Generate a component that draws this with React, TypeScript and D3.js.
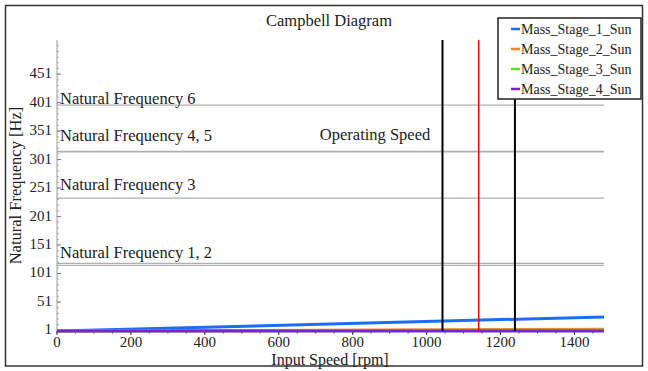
import React from "react";
import * as d3 from "d3";

const speeds = [0, 1480];
const seriesNames = ["Mass_Stage_1_Sun", "Mass_Stage_2_Sun", "Mass_Stage_3_Sun", "Mass_Stage_4_Sun"];
const seriesColors = ["#1a6ef5", "#ff7f1e", "#5ee024", "#7a22d6"];
const stage1 = [0, 24.7];
const stage2 = [0, 3.0];
const stage3 = [0, 1.5];
const stage4 = [0, 0];
const seriesValues = [stage1, stage2, stage3, stage4];

const naturalFreqs = [115.4, 118.7, 233.5, 314.8, 315.5, 396.8];
const nfLabels = ["Natural Frequency 1, 2", "Natural Frequency 3", "Natural Frequency 4, 5", "Natural Frequency 6"];
const nfLabelValues = [128, 247.6, 333.6, 398.6];

const operatingSpeeds = [1043, 1141, 1239];
const operatingColors = ["#000000", "#ff0000", "#000000"];
const operatingLabel = "Operating Speed";
const operatingLabelAt = [1010, 335.4];

const xTicks = [0, 200, 400, 600, 800, 1000, 1200, 1400];
const yTicks = [1, 51, 101, 151, 201, 251, 301, 351, 401, 451];

const FONT = "'Liberation Serif', 'Times New Roman', serif";

export default function App() {
  const W = 648, H = 371;
  const x = d3.scaleLinear().domain([0, 1480]).range([57, 604]);
  const y = d3.scaleLinear().domain([0, 511]).range([331, 40]);
  const line = d3.line<[number, number]>().x((d) => x(d[0])).y((d) => y(d[1]));

  const xMinor = d3.range(0, 1480, 50);
  const yMinor = d3.range(1, 511, 10);

  return (
    <svg width={W} height={H} style={{ position: "fixed", left: 0, top: 0, background: "#fff" }} fontFamily={FONT}>
      <rect x={0} y={0} width={W} height={H} fill="#fff" />
      <rect x={5.5} y={5.5} width={637} height={360.5} fill="none" stroke="#333" strokeWidth={1.5} />
      <text x={329} y={26} textAnchor="middle" fontSize={16.5} fill="#222">Campbell Diagram</text>

      {/* natural frequency lines */}
      {naturalFreqs.map((v, i) => (
        <line key={"nf" + i} x1={x(0)} x2={x(1480)} y1={y(v)} y2={y(v)} stroke="#b0b0b0" strokeWidth={1.3} />
      ))}
      {nfLabels.map((t, i) => (
        <text key={"nfl" + i} x={x(0) + 3} y={y(nfLabelValues[i])} fontSize={16.5} fill="#222">{t}</text>
      ))}

      {/* y axis */}
      <line x1={x(0)} x2={x(0)} y1={y(0)} y2={y(511)} stroke="#9a9a9a" strokeWidth={1} />
      {yMinor.map((v) => (
        <line key={"ym" + v} x1={x(0)} x2={x(0) + 2} y1={y(v)} y2={y(v)} stroke="#9a9a9a" strokeWidth={0.8} />
      ))}
      {yTicks.map((v) => (
        <g key={"yt" + v}>
          <line x1={x(0)} x2={x(0) + 4} y1={y(v)} y2={y(v)} stroke="#777" strokeWidth={1} />
          <text x={x(0) - 5} y={y(v) + 4} textAnchor="end" fontSize={15} fill="#222">{v}</text>
        </g>
      ))}

      {/* x axis */}
      <line x1={x(0)} x2={x(1480)} y1={y(0)} y2={y(0)} stroke="#333" strokeWidth={1} />
      {xMinor.map((v) => (
        <line key={"xm" + v} x1={x(v)} x2={x(v)} y1={y(0)} y2={y(0) + 2.5} stroke="#333" strokeWidth={1} />
      ))}
      {xTicks.map((v) => (
        <g key={"xt" + v}>
          <line x1={x(v)} x2={x(v)} y1={y(0)} y2={y(0) + 4} stroke="#333" strokeWidth={1} />
          <text x={x(v)} y={347} textAnchor="middle" fontSize={15} fill="#222">{v}</text>
        </g>
      ))}

      {/* series */}
      {seriesValues.map((vals, i) => (
        <path key={"s" + i} d={line(speeds.map((s, j) => [s, vals[j]]) as [number, number][]) || ""}
          fill="none" stroke={seriesColors[i]} strokeWidth={3} />
      ))}

      {/* operating speed lines */}
      {operatingSpeeds.map((s, i) => (
        <line key={"op" + i} x1={x(s)} x2={x(s)} y1={y(0)} y2={y(511)} stroke={operatingColors[i]}
          strokeWidth={i === 1 ? 1.5 : 2} />
      ))}
      <text x={x(operatingLabelAt[0])} y={y(operatingLabelAt[1])} textAnchor="end" fontSize={16.5} fill="#222">{operatingLabel}</text>

      {/* axis titles */}
      <text x={330} y={365} textAnchor="middle" fontSize={16} fill="#222">Input Speed [rpm]</text>
      <text transform={`translate(21, ${(y(0) + y(511)) / 2}) rotate(-90)`} textAnchor="middle" fontSize={16.5} fill="#222">Natural Frequency [Hz]</text>

      {/* legend */}
      <rect x={498} y={18} width={143} height={81} fill="#fff" stroke="#222" strokeWidth={1.5} />
      {seriesNames.map((n, i) => (
        <g key={"lg" + i}>
          <line x1={511} x2={520} y1={29 + i * 20} y2={29 + i * 20} stroke={seriesColors[i]} strokeWidth={2.5} />
          <text x={521} y={29 + i * 20 + 5} fontSize={14} fill="#222">{n}</text>
        </g>
      ))}
    </svg>
  );
}
